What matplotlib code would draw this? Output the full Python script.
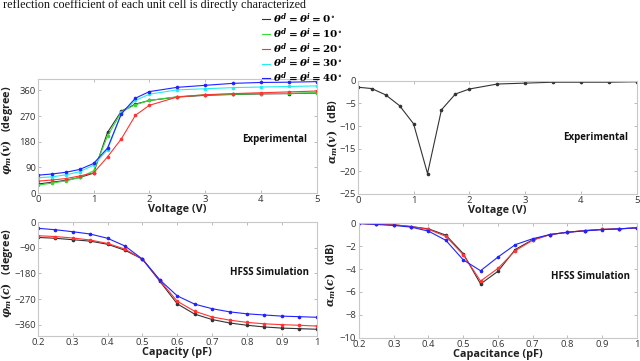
import numpy as np
import matplotlib
matplotlib.use("Agg")
import matplotlib.pyplot as plt

plt.rcParams["mathtext.fontset"] = "custom"
plt.rcParams["mathtext.it"] = "DejaVu Serif:italic:bold"
plt.rcParams["mathtext.rm"] = "DejaVu Serif:bold"
plt.rcParams["mathtext.bf"] = "DejaVu Serif:bold"
plt.rcParams["font.family"] = "Open Sans"

# ---- data: experimental (voltage sweep) ----
voltage = [0, 0.25, 0.5, 0.75, 1.0, 1.25, 1.5, 1.75, 2.0, 2.5, 3.0, 3.5, 4.0, 4.5, 5.0]
phase_exp = {
    "0": [32, 38, 45, 55, 70, 213, 288, 312, 325, 337, 343, 346, 348, 349, 351],
    "10": [28, 35, 43, 55, 78, 200, 285, 310, 325, 338, 345, 347, 349, 350, 352],
    "20": [42, 46, 51, 60, 71, 127, 191, 273, 308, 337, 345, 349, 352, 355, 358],
    "30": [54, 57, 64, 75, 98, 152, 280, 325, 347, 362, 366, 370, 372, 374, 376],
    "40": [63, 67, 73, 83, 104, 158, 279, 333, 356, 371, 378, 385, 388, 389, 391],
}
loss_exp = [-1.4, -1.7, -3.1, -5.5, -9.5, -20.5, -6.4, -2.9, -1.8, -0.7, -0.5, -0.3, -0.3, -0.3, -0.2]

# ---- data: HFSS simulation (capacitance sweep) ----
capacitance = [0.2, 0.25, 0.3, 0.35, 0.4, 0.45, 0.5, 0.55, 0.6, 0.65, 0.7, 0.75, 0.8, 0.85, 0.9, 0.95, 1.0]
phase_sim = {
    "0": [-54, -57, -62, -67, -78, -99, -130, -208, -287, -323, -342, -354, -362, -368, -372, -374, -376],
    "20": [-48, -51, -56, -63, -75, -95, -130, -205, -278, -313, -333, -344, -352, -357, -360, -362, -365],
    "40": [-22, -27, -34, -42, -57, -84, -130, -203, -259, -288, -304, -315, -322, -326, -330, -332, -334],
}
loss_sim = {
    "0": [-0.03, -0.1, -0.15, -0.3, -0.5, -1.05, -2.65, -5.3, -4.2, -2.3, -1.45, -1.0, -0.8, -0.65, -0.55, -0.5, -0.4],
    "20": [-0.03, -0.1, -0.15, -0.3, -0.55, -1.15, -2.75, -5.05, -3.95, -2.4, -1.5, -1.0, -0.8, -0.65, -0.55, -0.5, -0.42],
    "40": [-0.03, -0.12, -0.2, -0.35, -0.7, -1.5, -3.2, -4.15, -2.96, -1.88, -1.36, -1.0, -0.8, -0.68, -0.57, -0.5, -0.42],
}
cap_ticks = [0.2, 0.3, 0.4, 0.5, 0.6, 0.7, 0.8, 0.9, 1]
cap_labels = ["0.2", "0.3", "0.4", "0.5", "0.6", "0.7", "0.8", "0.9", "1"]

colors = {"0": "#333333", "10": "#33dd33", "20": "#ff3333", "30": "#22eeee", "40": "#2222ff"}

fig = plt.figure(figsize=(6.4, 3.61), dpi=100)
ax_tl = fig.add_axes([0.059, 0.465, 0.436, 0.316])
ax_tr = fig.add_axes([0.559, 0.463, 0.436, 0.313])
ax_bl = fig.add_axes([0.059, 0.069, 0.436, 0.316])
ax_br = fig.add_axes([0.561, 0.064, 0.434, 0.318])

line_kw = dict(lw=0.8, marker="o", ms=1.6)

for key, vals in phase_exp.items():
    ax_tl.plot(voltage, vals, color=colors[key], label=r"$\theta^d = \theta^i = %s^{\circ}$" % key, **line_kw)
ax_tr.plot(voltage, loss_exp, color="#333333", **line_kw)
for key, vals in phase_sim.items():
    ax_bl.plot(capacitance, vals, color=colors[key], **line_kw)
for key, vals in loss_sim.items():
    ax_br.plot(capacitance, vals, color=colors[key], **line_kw)

ax_tl.set_xlim(0, 5)
ax_tl.set_ylim(0, 400)
ax_tl.set_yticks([0, 90, 180, 270, 360])
ax_tr.set_xlim(0, 5)
ax_tr.set_ylim(-25, 0)
ax_tr.set_yticks([-25, -20, -15, -10, -5, 0])
ax_bl.set_xlim(0.2, 1)
ax_bl.set_ylim(-400, 0)
ax_bl.set_xticks(cap_ticks)
ax_bl.set_xticklabels(cap_labels)
ax_bl.set_yticks([0, -90, -180, -270, -360])
ax_br.set_xlim(0.2, 1)
ax_br.set_ylim(-10, 0)
ax_br.set_xticks(cap_ticks)
ax_br.set_xticklabels(cap_labels)
ax_br.set_yticks([0, -2, -4, -6, -8, -10])

for ax in (ax_tl, ax_tr, ax_bl, ax_br):
    for sp in ax.spines.values():
        sp.set_color("#c8c8c8")
        sp.set_linewidth(0.8)
    ax.tick_params(direction="in", length=2.5, width=0.6, color="#b0b0b0",
                   labelsize=6.8, labelcolor="#333333", pad=1.2, top=True, right=True)
ax_br.tick_params(axis="y", pad=2.2)

xlab_kw = dict(fontsize=7.8, fontweight="bold", color="#222222", labelpad=0)
ax_tl.set_xlabel("Voltage (V)", **xlab_kw)
ax_tr.set_xlabel("Voltage (V)", **xlab_kw)
ax_bl.set_xlabel("Capacity (pF)", **xlab_kw)
ax_br.set_xlabel("Capacitance (pF)", **xlab_kw)

ylab_kw = dict(fontsize=7.8, fontweight="bold", color="#222222")
ax_tl.set_ylabel(r"$\varphi_m(v)$   (degree)", **ylab_kw)
ax_tr.set_ylabel(r"$\alpha_m(v)$   (dB)", **ylab_kw)
ax_bl.set_ylabel(r"$\varphi_m(c)$   (degree)", **ylab_kw)
ax_br.set_ylabel(r"$\alpha_m(c)$   (dB)", **ylab_kw)
ax_tl.yaxis.set_label_coords(-0.08, 0.55)
ax_tr.yaxis.set_label_coords(-0.065, 0.55)
ax_bl.yaxis.set_label_coords(-0.08, 0.55)
ax_br.yaxis.set_label_coords(-0.076, 0.55)

note_kw = dict(fontsize=7, fontweight="bold", color="#111111", ha="center", va="center")
ax_tl.text(0.85, 0.47, "Experimental", transform=ax_tl.transAxes, **note_kw)
ax_tr.text(0.853, 0.50, "Experimental", transform=ax_tr.transAxes, **note_kw)
ax_bl.text(0.83, 0.555, "HFSS Simulation", transform=ax_bl.transAxes, **note_kw)
ax_br.text(0.834, 0.533, "HFSS Simulation", transform=ax_br.transAxes, **note_kw)

handles, labels = ax_tl.get_legend_handles_labels()
leg = fig.legend(handles, labels, loc="upper left", bbox_to_anchor=(0.403, 0.98),
                 frameon=False, fontsize=7.5, handlelength=0.8, handletextpad=0.25,
                 labelspacing=0.02, borderaxespad=0)
for h in leg.legend_handles:
    h.set_marker("")

fig.text(0.004, 0.977, "reflection coefficient of each unit cell is directly characterized",
         fontsize=8.7, family="Liberation Serif", va="baseline", ha="left", color="#111111")

fig.savefig("out.png", dpi=100)
